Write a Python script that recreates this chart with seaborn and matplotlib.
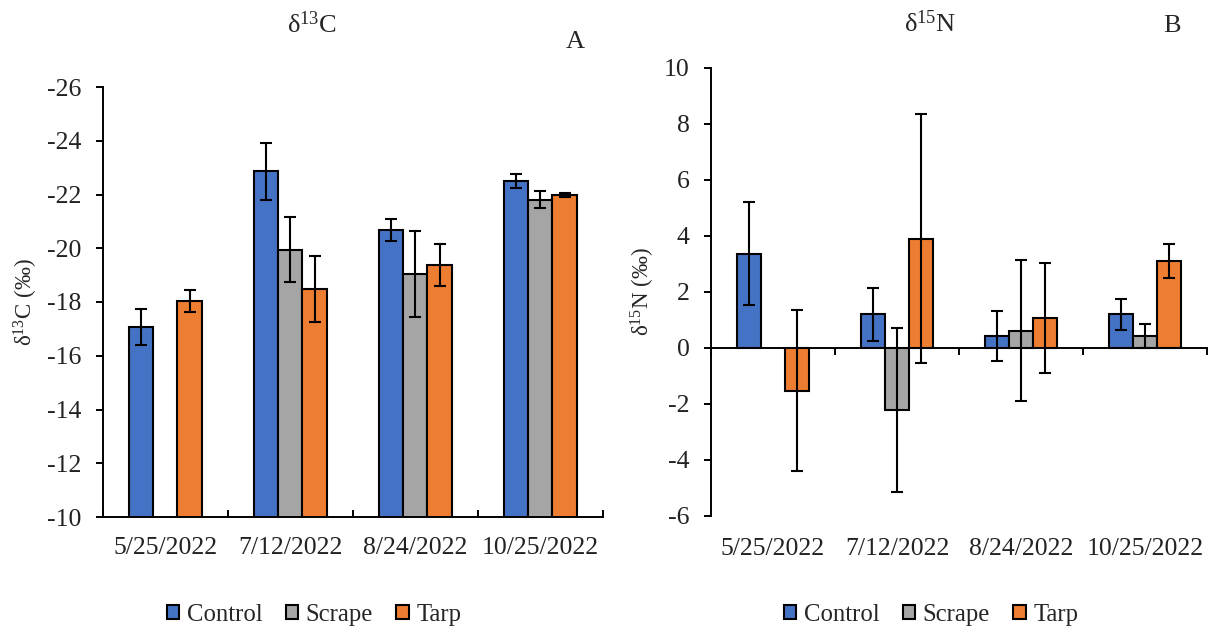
import numpy as np
import pandas as pd
import matplotlib
matplotlib.use("Agg")
import matplotlib.pyplot as plt
import seaborn as sns

# Sampling dates and treatments
dates = ["5/25/2022", "7/12/2022", "8/24/2022", "10/25/2022"]
treatments = ["Control", "Scrape", "Tarp"]
colors = ["#4472C4", "#A5A5A5", "#ED7D31"]

# delta 13C means and error (per mil); NaN = not sampled
c13_control = [-17.07, -22.86, -20.68, -22.49]
c13_control_err = [0.68, 1.05, 0.40, 0.26]
c13_scrape = [np.nan, -19.94, -19.05, -21.81]
c13_scrape_err = [np.nan, 1.21, 1.61, 0.31]
c13_tarp = [-18.04, -18.48, -19.36, -21.98]
c13_tarp_err = [0.42, 1.23, 0.78, 0.09]

# delta 15N means and error (per mil)
n15_control = [3.37, 1.21, 0.43, 1.21]
n15_control_err = [1.83, 0.95, 0.89, 0.55]
n15_scrape = [np.nan, -2.21, 0.62, 0.42]
n15_scrape_err = [np.nan, 2.92, 2.51, 0.43]
n15_tarp = [-1.53, 3.90, 1.07, 3.10]
n15_tarp_err = [2.88, 4.45, 1.95, 0.60]

c13_ticks = list(range(-26, -9, 2))
n15_ticks = list(range(-6, 11, 2))

sns.set_style("ticks")
plt.rcParams["font.family"] = ["Liberation Serif", "DejaVu Serif"]
plt.rcParams["mathtext.fontset"] = "custom"
plt.rcParams["mathtext.rm"] = "Liberation Serif"
plt.rcParams["mathtext.it"] = "Liberation Serif:italic"
plt.rcParams["mathtext.bf"] = "Liberation Serif:bold"
plt.rcParams["axes.linewidth"] = 1.4
plt.rcParams["axes.unicode_minus"] = False
plt.rcParams["xtick.color"] = "black"
plt.rcParams["ytick.color"] = "black"
plt.rcParams["xtick.labelcolor"] = "#222222"
plt.rcParams["ytick.labelcolor"] = "#222222"

TICK_FS = 18.5


def long_table(series, errors):
    rows = []
    for t, vals, errs in zip(treatments, series, errors):
        for d, v, e in zip(dates, vals, errs):
            if not np.isnan(v):
                rows.append({"date": d, "treatment": t, "value": v, "err": e})
    return pd.DataFrame(rows)


def draw_panel(ax, df, errors):
    sns.barplot(data=df, x="date", y="value", hue="treatment",
                order=dates, hue_order=treatments, palette=colors,
                width=0.585, errorbar=None, edgecolor="black",
                linewidth=1.5, saturation=1, ax=ax)
    bar_sets = list(ax.containers)
    for errs, cont in zip(errors, bar_sets):
        for bar in cont:
            xc = bar.get_x() + bar.get_width() / 2
            top = bar.get_y() + bar.get_height()
            e = errs[int(round(xc))]
            ax.errorbar(xc, top, yerr=e, fmt="none", ecolor="black",
                        elinewidth=1.5, capsize=4.5, capthick=1.5, zorder=5)
    handles, labels = ax.get_legend_handles_labels()
    if ax.get_legend() is not None:
        ax.get_legend().remove()
    ax.set_xlabel("")
    ax.set_ylabel("")
    ax.set_xlim(-0.5, 3.5)
    ax.set_xticks(range(len(dates)))
    ax.set_xticks(np.arange(-0.5, len(dates), 1.0), minor=True)
    for s in ["top", "right"]:
        ax.spines[s].set_visible(False)
    for s in ["left", "bottom"]:
        ax.spines[s].set_color("black")
        ax.spines[s].set_linewidth(1.4)
    ax.tick_params(axis="y", which="major", left=True, direction="out",
                   length=5, width=1.4, color="black", labelsize=TICK_FS,
                   pad=10.5)
    ax.tick_params(axis="y", which="minor", left=False)
    return handles, labels


fig = plt.figure(figsize=(12.14, 6.32), dpi=100)
W, H = 1214, 632

# Panel A: delta 13C
axA = fig.add_axes([102.7 / W, 1 - 517 / H, 500 / W, 430 / H])
dfA = long_table([c13_control, c13_scrape, c13_tarp],
                 [c13_control_err, c13_scrape_err, c13_tarp_err])
hA, lA = draw_panel(axA, dfA, [c13_control_err, c13_scrape_err, c13_tarp_err])
axA.set_ylim(-10, -26)
axA.set_yticks(c13_ticks)
axA.set_xticklabels(dates)
axA.tick_params(axis="x", which="major", bottom=True, length=0,
                labelsize=TICK_FS, pad=14.5)
axA.tick_params(axis="x", which="minor", bottom=True, direction="in",
                length=5, width=1.4, color="black")

# Panel B: delta 15N
axB = fig.add_axes([711 / W, 1 - 516 / H, 496 / W, 448 / H])
dfB = long_table([n15_control, n15_scrape, n15_tarp],
                 [n15_control_err, n15_scrape_err, n15_tarp_err])
hB, lB = draw_panel(axB, dfB, [n15_control_err, n15_scrape_err, n15_tarp_err])
axB.set_ylim(-6, 10)
axB.set_yticks(n15_ticks)
axB.spines["bottom"].set_position(("data", 0))
axB.tick_params(axis="x", which="major", length=0, labelbottom=False)
axB.tick_params(axis="x", which="minor", bottom=True, direction="out",
                length=5, width=1.4, color="black")
secB = axB.secondary_xaxis("bottom")
secB.set_xticks(range(len(dates)), labels=dates)
secB.tick_params(length=0, labelsize=TICK_FS, pad=15.5)
secB.spines["bottom"].set_visible(False)

# Titles, panel letters and axis labels
fig.text(312 / W, 1 - 33 / H, "δ$^{13}$C", ha="center", va="baseline", fontsize=19)
fig.text(575 / W, 1 - 48 / H, "A", ha="center", va="baseline", fontsize=19)
fig.text(930 / W, 1 - 32 / H, "δ$^{15}$N", ha="center", va="baseline", fontsize=19)
fig.text(1172 / W, 1 - 32 / H, "B", ha="center", va="baseline", fontsize=19)
fig.text(26 / W, 1 - 302 / H, "δ$^{13}$C (‰)", ha="center", va="center",
         rotation=90, fontsize=16.5)
fig.text(643 / W, 1 - 292 / H, "δ$^{15}$N (‰)", ha="center", va="center",
         rotation=90, fontsize=16.5)

# Legends under each panel
for handles, labels, xc in [(hA, lA, 314), (hB, lB, 931)]:
    fig.legend(handles, labels, loc="center", bbox_to_anchor=(xc / W, 1 - 615 / H),
               ncol=3, frameon=False, fontsize=17.8, handlelength=0.5,
               handleheight=0.5, handletextpad=0.3, columnspacing=0.95,
               borderaxespad=0, borderpad=0)

fig.savefig("out.png", dpi=100)
